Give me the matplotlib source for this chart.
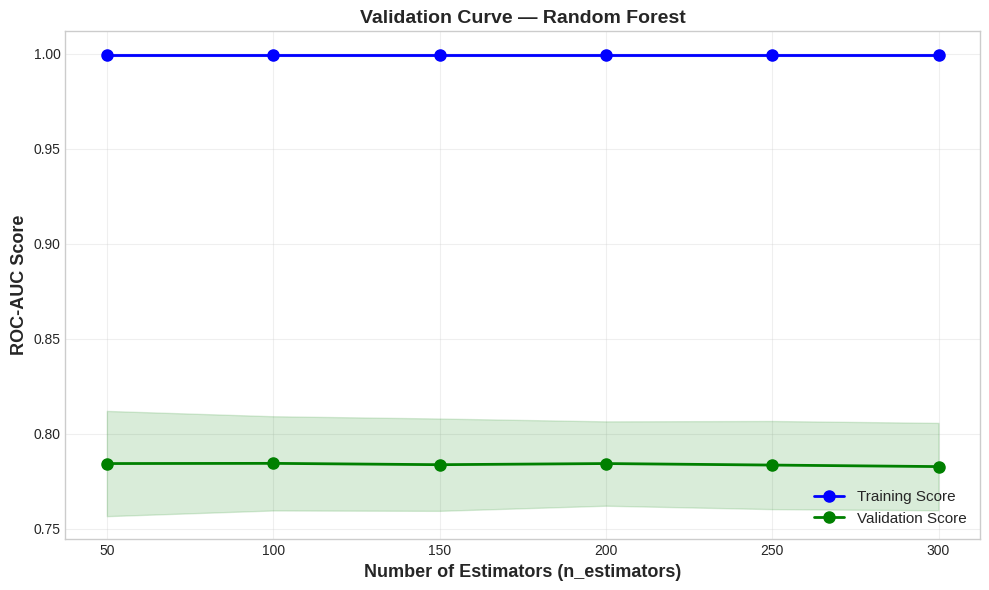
import numpy as np
import matplotlib
matplotlib.use("Agg")
import matplotlib.pyplot as plt

plt.style.use("seaborn-v0_8-whitegrid")
plt.rcParams["font.family"] = ["Liberation Sans", "DejaVu Sans"]

# n_estimators values and scores
n_estimators = [50, 100, 150, 200, 250, 300]
train_mean = [0.9995, 0.9995, 0.9995, 0.9995, 0.9995, 0.9995]
train_std = [0.0003, 0.0003, 0.0003, 0.0003, 0.0003, 0.0003]
val_mean = [0.7844, 0.7845, 0.7838, 0.7844, 0.7836, 0.7828]
val_std = [0.0277, 0.0248, 0.0243, 0.0222, 0.0232, 0.0230]

x = np.array(n_estimators)
tm, ts = np.array(train_mean), np.array(train_std)
vm, vs = np.array(val_mean), np.array(val_std)

fig, ax = plt.subplots(figsize=(9.89, 5.90), dpi=100)
fig.subplots_adjust(left=0.066, right=0.991, top=0.947, bottom=0.086)

ax.plot(x, tm, "o-", color="blue", linewidth=2, markersize=8, label="Training Score")
ax.fill_between(x, tm - ts, tm + ts, alpha=0.15, color="blue")
ax.plot(x, vm, "o-", color="green", linewidth=2, markersize=8, label="Validation Score")
ax.fill_between(x, vm - vs, vm + vs, alpha=0.15, color="green")

ax.set_xlabel("Number of Estimators (n_estimators)", fontsize=13, fontweight="bold")
ax.set_ylabel("ROC-AUC Score", fontsize=13, fontweight="bold")
ax.set_title("Validation Curve — Random Forest", fontsize=14, fontweight="bold")
ax.legend(loc="lower right", fontsize=11)
ax.grid(True, alpha=0.3)
for s in ax.spines.values():
    s.set_visible(True)
    s.set_color("#cccccc")

plt.savefig("out.png", dpi=100)
